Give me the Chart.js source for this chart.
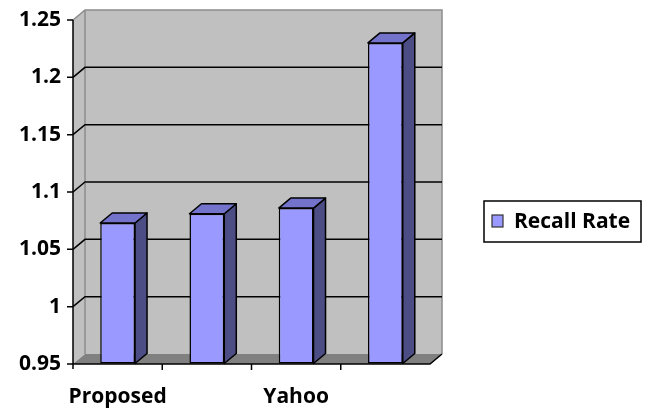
<!DOCTYPE html>
<html>
<head>
<meta charset="utf-8">
<script src="https://cdn.jsdelivr.net/npm/chart.js@4"></script>
<style>
  body { margin: 0; background: #fff; }
  #wrap { width: 648px; height: 410px; }
</style>
</head>
<body>
<div id="wrap"><canvas id="grafico"></canvas></div>
<script>
const categorias = ['Proposed', '', 'Yahoo', ''];
const recallRate = [1.073, 1.081, 1.086, 1.23];
const serieNome = 'Recall Rate';
const yMin = 0.95;
const yMax = 1.25;
const yPasso = 0.05;

const DX = 12, DY = -10;
const fonte = "'Open Sans', sans-serif";

// fundo 3D: paredes, chao e linhas de grade
const paredes = {
  id: 'paredes',
  beforeDatasetsDraw(chart) {
    const { ctx, chartArea: a, scales } = chart;
    const y = scales.y;
    ctx.save();
    // parede esquerda
    ctx.fillStyle = '#c0c0c0';
    ctx.beginPath();
    ctx.moveTo(a.left, a.top); ctx.lineTo(a.left + DX, a.top + DY);
    ctx.lineTo(a.left + DX, a.bottom + DY); ctx.lineTo(a.left, a.bottom);
    ctx.closePath(); ctx.fill();
    // parede do fundo
    ctx.fillRect(a.left + DX, a.top + DY, a.right - a.left, a.bottom - a.top);
    ctx.strokeStyle = '#8c8c8c';
    ctx.lineWidth = 1.5;
    ctx.beginPath();
    ctx.moveTo(a.left, a.top); ctx.lineTo(a.left + DX, a.top + DY);
    ctx.lineTo(a.right + DX, a.top + DY); ctx.lineTo(a.right + DX, a.bottom + DY);
    ctx.moveTo(a.left + DX, a.top + DY); ctx.lineTo(a.left + DX, a.bottom + DY);
    ctx.stroke();
    // chao
    ctx.fillStyle = '#808080';
    ctx.beginPath();
    ctx.moveTo(a.left, a.bottom); ctx.lineTo(a.left + DX, a.bottom + DY);
    ctx.lineTo(a.right + DX, a.bottom + DY); ctx.lineTo(a.right, a.bottom);
    ctx.closePath(); ctx.fill();
    ctx.strokeStyle = '#a0a0a0';
    ctx.lineWidth = 1;
    ctx.beginPath();
    ctx.moveTo(a.right, a.bottom); ctx.lineTo(a.right + DX, a.bottom + DY);
    ctx.stroke();
    // grade
    ctx.strokeStyle = '#000';
    ctx.lineWidth = 1.5;
    y.ticks.forEach(t => {
      if (t.value <= yMin + 1e-9 || t.value >= yMax - 1e-9) return;
      const py = y.getPixelForValue(t.value);
      ctx.beginPath();
      ctx.moveTo(a.left, py); ctx.lineTo(a.left + DX, py + DY);
      ctx.lineTo(a.right + DX, py + DY);
      ctx.stroke();
    });
    // eixos frontais
    ctx.lineWidth = 1.5;
    ctx.beginPath();
    ctx.moveTo(a.left, a.top); ctx.lineTo(a.left, a.bottom + 5);
    ctx.moveTo(a.left, a.bottom); ctx.lineTo(a.right, a.bottom);
    ctx.lineTo(a.right + DX, a.bottom + DY);
    y.ticks.forEach(t => {
      const py = y.getPixelForValue(t.value);
      ctx.moveTo(a.left - 6, py); ctx.lineTo(a.left, py);
    });
    const x = scales.x;
    for (let i = 1; i < categorias.length; i++) {
      const px = (x.getPixelForValue(i - 1) + x.getPixelForValue(i)) / 2;
      ctx.moveTo(px, a.bottom); ctx.lineTo(px, a.bottom + 6);
    }
    ctx.stroke();
    ctx.restore();
  }
};

// faces de cima e do lado das barras
const barras3d = {
  id: 'barras3d',
  afterDatasetsDraw(chart) {
    const { ctx } = chart;
    const meta = chart.getDatasetMeta(0);
    ctx.save();
    ctx.strokeStyle = '#000';
    ctx.lineWidth = 1.5;
    ctx.lineJoin = 'round';
    meta.data.forEach(bar => {
      const { x, y, base, width } = bar.getProps(['x', 'y', 'base', 'width'], true);
      const l = x - width / 2, r = x + width / 2;
      ctx.fillStyle = '#4d4d85';
      ctx.beginPath();
      ctx.moveTo(r, y); ctx.lineTo(r + DX, y + DY);
      ctx.lineTo(r + DX, base + DY); ctx.lineTo(r, base);
      ctx.closePath(); ctx.fill(); ctx.stroke();
      ctx.fillStyle = '#7373cc';
      ctx.beginPath();
      ctx.moveTo(l, y); ctx.lineTo(l + DX, y + DY);
      ctx.lineTo(r + DX, y + DY); ctx.lineTo(r, y);
      ctx.closePath(); ctx.fill(); ctx.stroke();
    });
    ctx.restore();
  }
};

// legenda com moldura
const legenda = {
  id: 'legenda',
  afterDraw(chart) {
    const { ctx } = chart;
    ctx.save();
    ctx.strokeStyle = '#000';
    ctx.lineWidth = 1.5;
    ctx.fillStyle = '#fff';
    ctx.fillRect(484, 201, 157, 41);
    ctx.strokeRect(484, 201, 157, 41);
    ctx.fillStyle = '#9999ff';
    ctx.fillRect(492, 215, 11, 12);
    ctx.lineWidth = 1.2;
    ctx.strokeStyle = '#333';
    ctx.strokeRect(492, 215, 11, 12);
    ctx.fillStyle = '#000';
    ctx.font = 'bold 21px ' + fonte;
    ctx.textBaseline = 'middle';
    ctx.fillText(chart.data.datasets[0].label, 514, 222);
    ctx.restore();
  }
};

new Chart(document.getElementById('grafico'), {
  type: 'bar',
  data: {
    labels: categorias,
    datasets: [{
      label: serieNome,
      data: recallRate,
      base: yMin,
      backgroundColor: '#9999ff',
      borderColor: '#000',
      borderWidth: 1.5,
      borderSkipped: false,
      categoryPercentage: 1,
      barPercentage: 0.39
    }]
  },
  options: {
    responsive: true,
    maintainAspectRatio: false,
    animation: false,
    devicePixelRatio: 1,
    layout: { padding: { top: 20, right: 218, left: 0, bottom: 0 } },
    plugins: { legend: { display: false }, tooltip: { enabled: false } },
    scales: {
      x: {
        grid: { display: false, drawTicks: false },
        border: { display: false },
        ticks: { color: '#000', font: { family: fonte, size: 21, weight: 'bold' }, padding: 20, maxRotation: 0, autoSkip: false },
        afterFit: s => { s.height = 46; }
      },
      y: {
        min: yMin,
        max: yMax,
        // marcas invisiveis, so para afastar os rotulos do eixo
        grid: { color: 'rgba(0,0,0,0)', drawOnChartArea: false, drawTicks: true, tickLength: 12 },
        border: { display: false },
        ticks: {
          stepSize: yPasso,
          color: '#000',
          padding: 0,
          font: { family: fonte, size: 21, weight: 'bold' },
          callback: v => String(+v.toFixed(2))
        },
        afterFit: s => { s.width = 73; }
      }
    }
  },
  plugins: [paredes, barras3d, legenda]
});
</script>
</body>
</html>
